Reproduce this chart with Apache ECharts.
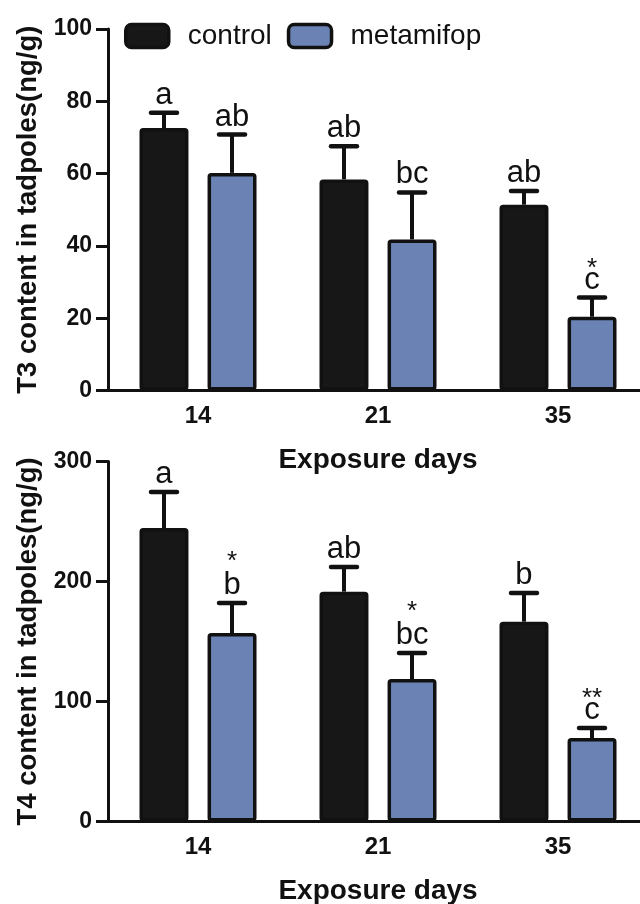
<!DOCTYPE html>
<html>
<head>
<meta charset="utf-8">
<style>html,body{margin:0;padding:0;background:#fff;}#c{width:640px;height:904px;}</style>
<script src="https://cdn.jsdelivr.net/npm/echarts@6/dist/echarts.min.js"></script>
</head>
<body>
<div id="c"></div>
<script>
// ---- data ----
const days = ['14', '21', '35'];
const seriesNames = ['control', 'metamifop'];

const t3Control = [72.6, 58.4, 51.4];
const t3ControlSD = [4.2, 9.2, 3.8];
const t3Metamifop = [60.2, 41.8, 20.4];
const t3MetamifopSD = [10.6, 13.0, 5.3];
const t3ControlLetters = ['a', 'ab', 'ab'];
const t3MetamifopLetters = ['ab', 'bc', 'c'];
const t3ControlStars = ['', '', ''];
const t3MetamifopStars = ['', '', '*'];

const t4Control = [244.5, 191.5, 166.5];
const t4ControlSD = [30.0, 20.5, 24.0];
const t4Metamifop = [157.0, 118.7, 69.6];
const t4MetamifopSD = [25.0, 21.7, 8.3];
const t4ControlLetters = ['a', 'ab', 'b'];
const t4MetamifopLetters = ['b', 'bc', 'c'];
const t4ControlStars = ['', '', ''];
const t4MetamifopStars = ['*', '*', '**'];

const t3Ticks = { min: 0, max: 100, interval: 20 };
const t4Ticks = { min: 0, max: 300, interval: 100 };

// ---- style ----
const FONT = "'Liberation Sans', Arial, sans-serif";
const INK = '#111';
const BLACK_FILL = '#171717';
const BLUE_FILL = '#6a83b4';
const BAR_FRAC = 0.272;
const GAP_FRAC = 0.39;

function errSeries(name, xi, means, sds, letters, stars, side) {
  return {
    type: 'custom',
    name: name + '_err',
    xAxisIndex: xi, yAxisIndex: xi,
    z: 5,
    data: means.map((m, i) => [i, m, m + sds[i]]),
    renderItem: function (params, api) {
      const i = params.dataIndex;
      const band = api.size([1, 0])[0];
      const off = side * band * BAR_FRAC * (1 + GAP_FRAC) / 2;
      const p0 = api.coord([api.value(0), api.value(1)]);
      const p1 = api.coord([api.value(0), api.value(2)]);
      const cx = p0[0] + off;
      const letter = letters[i];
      const star = stars[i];
      const boxBottom = p1[1] - 2;
      const tall = /[bdfhklt]/.test(letter);
      const children = [
        { type: 'line', shape: { x1: cx, y1: p0[1], x2: cx, y2: p1[1] },
          style: { stroke: INK, lineWidth: 4 } },
        { type: 'line', shape: { x1: cx - 13, y1: p1[1], x2: cx + 13, y2: p1[1] },
          style: { stroke: INK, lineWidth: 4.5, lineCap: 'round' } },
        { type: 'text', x: cx, y: boxBottom,
          style: { text: letter, fill: INK, font: '31px ' + FONT,
                   align: 'center', verticalAlign: 'bottom' } }
      ];
      if (star) {
        children.push({ type: 'text', x: cx, y: boxBottom - (tall ? 26 : 14),
          style: { text: star, fill: INK, font: '26px ' + FONT,
                   align: 'center', verticalAlign: 'bottom' } });
      }
      return { type: 'group', children: children };
    }
  };
}

function barSeries(name, xi, data, color) {
  return {
    type: 'bar', name: name, xAxisIndex: xi, yAxisIndex: xi,
    data: data, barWidth: (BAR_FRAC * 100) + '%', barGap: (GAP_FRAC * 100) + '%',
    itemStyle: { color: color, borderColor: INK, borderWidth: 3.5, borderRadius: 2 },
    emphasis: { disabled: true }
  };
}

function xAxisCfg(gi) {
  return {
    type: 'category', gridIndex: gi, data: days,
    axisLine: { lineStyle: { color: INK, width: 3 } },
    axisTick: { alignWithLabel: true, length: 10, lineStyle: { color: INK, width: 3 } },
    axisLabel: { color: INK, fontSize: 24, fontWeight: 'bold', fontFamily: FONT, margin: 14 },
    name: 'Exposure days', nameLocation: 'middle', nameGap: 56,
    nameTextStyle: { color: INK, fontSize: 28, fontWeight: 'bold', fontFamily: FONT }
  };
}

function yAxisCfg(gi, ticks, name) {
  return {
    type: 'value', gridIndex: gi, min: ticks.min, max: ticks.max, interval: ticks.interval,
    axisLine: { show: true, lineStyle: { color: INK, width: 3 } },
    axisTick: { show: true, length: 12, lineStyle: { color: INK, width: 3 } },
    axisLabel: { color: INK, fontSize: 23, fontWeight: 'bold', fontFamily: FONT, margin: 16 },
    splitLine: { show: false },
    name: name, nameLocation: 'middle', nameGap: 62,
    nameTextStyle: { color: INK, fontSize: 27.5, fontWeight: 'bold', fontFamily: FONT }
  };
}

const chart = echarts.init(document.getElementById('c'), null, { renderer: 'canvas' });
chart.setOption({
  backgroundColor: '#fff',
  animation: false,
  legend: {
    data: seriesNames, left: 124, top: 22, padding: 0,
    itemWidth: 43, itemHeight: 23, itemGap: 15,
    icon: 'roundRect', selectedMode: false,
    itemStyle: { borderColor: INK, borderWidth: 3.5 },
    textStyle: { color: INK, fontSize: 28, fontFamily: FONT, padding: [0, 0, 0, 14] }
  },
  grid: [
    { left: 108, top: 29, width: 540, height: 361.5, outerBoundsMode: 'none', containLabel: false },
    { left: 108, top: 461.5, width: 540, height: 360, outerBoundsMode: 'none', containLabel: false }
  ],
  xAxis: [xAxisCfg(0), xAxisCfg(1)],
  yAxis: [yAxisCfg(0, t3Ticks, 'T3 content in tadpoles(ng/g)'),
          yAxisCfg(1, t4Ticks, 'T4 content in tadpoles(ng/g)')],
  series: [
    barSeries(seriesNames[0], 0, t3Control, BLACK_FILL),
    barSeries(seriesNames[1], 0, t3Metamifop, BLUE_FILL),
    barSeries(seriesNames[0], 1, t4Control, BLACK_FILL),
    barSeries(seriesNames[1], 1, t4Metamifop, BLUE_FILL),
    errSeries('t3c', 0, t3Control, t3ControlSD, t3ControlLetters, t3ControlStars, -1),
    errSeries('t3m', 0, t3Metamifop, t3MetamifopSD, t3MetamifopLetters, t3MetamifopStars, 1),
    errSeries('t4c', 1, t4Control, t4ControlSD, t4ControlLetters, t4ControlStars, -1),
    errSeries('t4m', 1, t4Metamifop, t4MetamifopSD, t4MetamifopLetters, t4MetamifopStars, 1)
  ]
});
</script>
</body>
</html>
